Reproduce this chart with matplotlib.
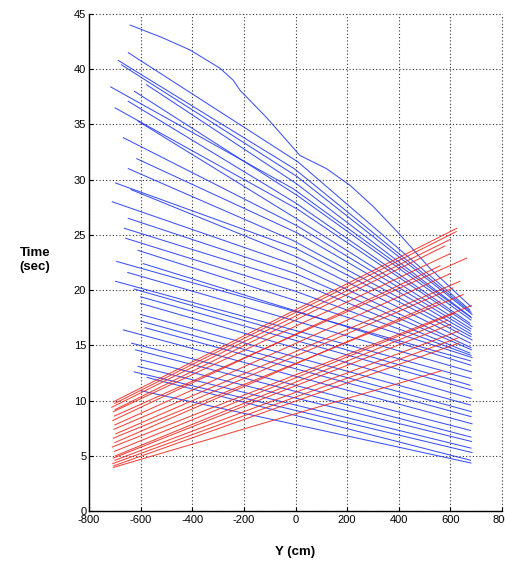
"""Pedestrian trajectories: time vs lateral position, two opposing streams."""
import matplotlib

matplotlib.use("Agg")

import matplotlib.pyplot as plt

# top-most blue trajectory (clearly curved, read point by point)
TOP_TRACK_X = [-641, -520, -409, -293, -241, -215, -111, 17, 120, 211, 300, 398, 520, 680]
TOP_TRACK_T = [44.0, 42.9, 41.75, 40.1, 39.0, 38.1, 35.6, 32.2, 31.0, 29.5, 27.6, 25.2, 22.0, 18.5]

# upper blue tracks: start, a point near Y = 0, end (they bend down towards the right)
UPPER_X0 = [-648, -687, -674, -577, -716, -624, -648, -699, -610, -667, -615, -648, -697,
            -637, -710, -648, -663, -658, -610]
UPPER_T0 = [41.5, 40.8, 40.4, 38.6, 38.4, 38.0, 37.1, 36.5, 35.3, 33.8, 31.9, 31.0, 29.7,
            29.1, 28.0, 26.5, 25.6, 24.7, 23.6]
UPPER_XM = [10, -5, 5, 0, -10, 5, 0, 10, -5, 0, 5, -10, 0, 5, -5, 0, 10, 0, -5]
UPPER_TM = [31.6, 31.0, 30.3, 29.7, 29.2, 28.6, 27.9, 27.3, 26.6, 25.9, 25.2, 24.5, 23.8,
            23.0, 22.3, 21.5, 20.7, 19.9, 19.1]
UPPER_X1 = [676, 680, 684, 678, 682, 680, 676, 684, 680, 678, 682, 680, 684,
            678, 680, 682, 676, 680, 684]
UPPER_T1 = [18.2, 18.0, 17.8, 17.6, 17.5, 17.3, 17.0, 16.7, 16.5, 16.3, 16.0, 15.8, 15.5,
            15.2, 14.8, 14.6, 14.3, 14.1, 13.9]

# lower blue tracks: nearly straight, start (left) and end (right)
LOWER_X0 = [-693, -590, -650, -697, -625, -600, -600, -600, -600, -583, -667, -635, -620,
            -600, -610, -625, -575, -600]
LOWER_T0 = [22.6, 22.4, 21.6, 20.8, 20.1, 19.4, 18.8, 17.8, 17.2, 16.6, 16.4, 15.2, 14.6,
            13.7, 13.1, 12.6, 12.1, 10.9]
LOWER_X1 = [678, 680, 682, 680, 676, 684, 680, 678, 682, 680, 684, 678, 680,
            682, 680, 684, 678, 680]
LOWER_T1 = [13.6, 13.2, 12.6, 12.0, 11.4, 10.95, 10.2, 9.6, 9.0, 8.55, 7.9, 7.3, 6.7,
            6.3, 5.7, 5.3, 4.6, 4.35]

# red stream: start point (left) and end point (right) of each track
RED_X0 = [-705, -700, -712, -698, -706, -702, -708, -700, -704, -696, -706, -700, -710,
          -702, -698, -706, -700, -708, -704, -706]
RED_T0 = [9.9, 9.75, 9.4, 9.2, 9.0, 8.6, 8.2, 7.8, 7.4, 7.0, 6.6, 6.2, 5.8, 5.4,
          5.0, 4.8, 4.6, 4.3, 4.1, 3.95]
RED_X1 = [625, 623, 600, 579, 599, 663, 560, 600, 637, 610, 650, 560, 682, 616,
          590, 600, 632, 632, 632, 565]
RED_T1 = [25.6, 25.3, 24.6, 24.0, 23.3, 22.9, 22.2, 21.5, 20.8, 20.2, 19.6, 19.0,
          18.6, 17.9, 17.3, 16.9, 16.3, 15.7, 15.2, 12.7]

X_TICKS = list(range(-800, 801, 200))
Y_TICKS = list(range(0, 46, 5))

BLUE = "#1a33f0"
RED = "#f0241a"
FONT = "Liberation Sans"
LW = 0.75


def draw_tracks(ax):
    ax.plot(TOP_TRACK_X, TOP_TRACK_T, color=BLUE, linewidth=LW, alpha=0.85)
    for x0, t0, xm, tm, x1, t1 in zip(UPPER_X0, UPPER_T0, UPPER_XM, UPPER_TM,
                                      UPPER_X1, UPPER_T1):
        ax.plot([x0, xm, x1], [t0, tm, t1], color=BLUE, linewidth=LW, alpha=0.85)
    for x0, t0, x1, t1 in zip(LOWER_X0, LOWER_T0, LOWER_X1, LOWER_T1):
        ax.plot([x0, x1], [t0, t1], color=BLUE, linewidth=LW, alpha=0.85)
    for x0, t0, x1, t1 in zip(RED_X0, RED_T0, RED_X1, RED_T1):
        ax.plot([x0, x1], [t0, t1], color=RED, linewidth=LW, alpha=0.85)


def style_axes(ax):
    ax.set_xlim(-800, 800)
    ax.set_ylim(0, 45)
    ax.set_xticks(X_TICKS)
    ax.set_yticks(Y_TICKS)
    ax.set_xticklabels([str(v) for v in X_TICKS], fontfamily=FONT, fontsize=8)
    ax.set_yticklabels([str(v) for v in Y_TICKS], fontfamily=FONT, fontsize=8)
    ax.tick_params(axis="x", direction="in", length=3, width=0.8, pad=3)
    ax.tick_params(axis="y", direction="in", length=3, width=0.8, pad=2)
    ax.grid(True, linestyle=(0, (1, 2)), color="#333333", linewidth=0.8)
    ax.set_axisbelow(True)
    for side in ("top", "right"):
        ax.spines[side].set_visible(False)
    for side in ("left", "bottom"):
        ax.spines[side].set_linewidth(1.0)
    for line in ax.get_xgridlines() + ax.get_ygridlines():
        line.set_clip_on(False)


def main():
    fig = plt.figure(figsize=(5.06, 5.61), dpi=100)
    ax = fig.add_axes([0.176, 0.089, 0.816, 0.886])
    draw_tracks(ax)
    style_axes(ax)
    fig.text(0.069, 0.536, "Time\n(sec)", ha="center", va="center",
             fontfamily=FONT, fontsize=9.5, fontweight="bold", linespacing=1.2)
    fig.text(0.583, 0.016, "Y (cm)", ha="center", va="center",
             fontfamily=FONT, fontsize=9.5, fontweight="bold")
    fig.savefig("out.png", dpi=100)
    plt.close(fig)


if __name__ == "__main__":
    main()
